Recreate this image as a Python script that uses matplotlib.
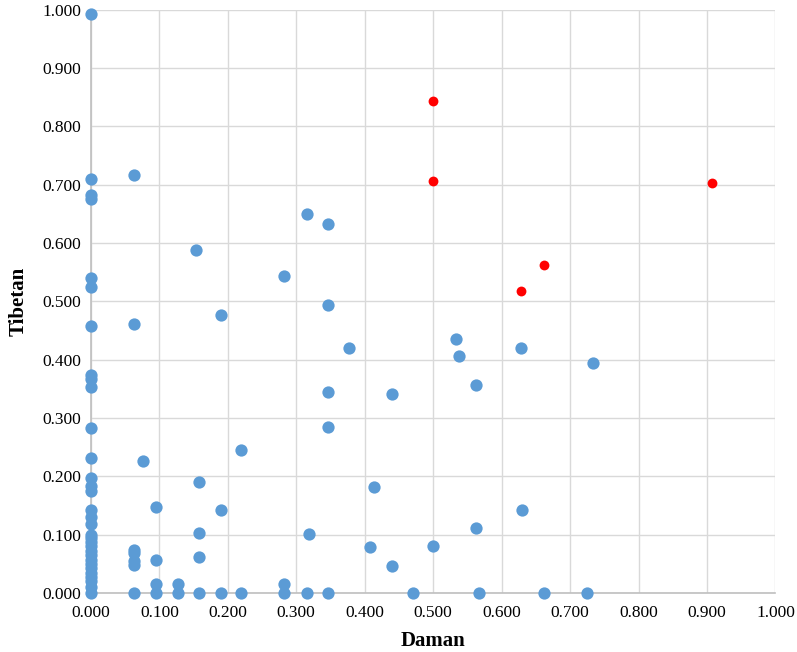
import matplotlib.pyplot as plt

plt.rcParams['font.family'] = ['Liberation Serif', 'DejaVu Serif']

# points sitting on the Daman = 0 line
zero_x_tibetan = [0.992, 0.710, 0.682, 0.675, 0.540, 0.524, 0.457, 0.373, 0.367, 0.354,
                  0.283, 0.231, 0.198, 0.183, 0.175, 0.143, 0.130, 0.119, 0.100, 0.095,
                  0.088, 0.080, 0.072, 0.065, 0.057, 0.050, 0.042, 0.035, 0.027, 0.020,
                  0.011, 0.000]

# points sitting on the Tibetan = 0 line
zero_y_daman = [0.063, 0.095, 0.127, 0.158, 0.190, 0.220, 0.282, 0.315, 0.347,
                0.470, 0.567, 0.662, 0.725]

daman_other = [0.063, 0.153, 0.282, 0.315, 0.347, 0.347, 0.063, 0.190, 0.377, 0.533,
               0.537, 0.628, 0.733, 0.563, 0.440, 0.347, 0.347, 0.220, 0.076, 0.158,
               0.413, 0.095, 0.190, 0.630, 0.563, 0.158, 0.318, 0.408, 0.500, 0.063,
               0.063, 0.063, 0.063, 0.095, 0.158, 0.440, 0.095, 0.127, 0.282]
tibetan_other = [0.717, 0.588, 0.543, 0.650, 0.632, 0.493, 0.462, 0.476, 0.420, 0.436,
                 0.407, 0.420, 0.395, 0.357, 0.341, 0.344, 0.285, 0.246, 0.226, 0.190,
                 0.182, 0.147, 0.143, 0.143, 0.111, 0.103, 0.102, 0.079, 0.081, 0.073,
                 0.068, 0.055, 0.048, 0.057, 0.062, 0.047, 0.016, 0.016, 0.016]

# highlighted points
daman_red = [0.500, 0.500, 0.908, 0.662, 0.628]
tibetan_red = [0.843, 0.707, 0.703, 0.563, 0.518]

blue_x = [0.0] * len(zero_x_tibetan) + zero_y_daman + daman_other
blue_y = zero_x_tibetan + [0.0] * len(zero_y_daman) + tibetan_other

fig = plt.figure(figsize=(7.97, 6.52), dpi=100)
ax = fig.add_axes([0.114, 0.0905, 0.859, 0.8945])

ax.scatter(blue_x, blue_y, s=78, color='#5b9bd5', zorder=3, linewidths=0, clip_on=False)
ax.scatter(daman_red, tibetan_red, s=50, color='#ff0000', zorder=4, linewidths=0)

ticks = [i / 10 for i in range(11)]
ax.set_xlim(0, 1)
ax.set_ylim(0, 1)
ax.set_xticks(ticks)
ax.set_yticks(ticks)
ax.set_xticklabels([f'{t:.3f}' for t in ticks], fontsize=12.5)
ax.set_yticklabels([f'{t:.3f}' for t in ticks], fontsize=12.5)
ax.tick_params(axis='x', length=0, pad=9)
ax.tick_params(axis='y', length=0, pad=7)
ax.grid(color='#d9d9d9', linewidth=1)
ax.set_axisbelow(True)
for side in ['top', 'right']:
    ax.spines[side].set_visible(False)
for side in ['left', 'bottom']:
    ax.spines[side].set_color('#bfbfbf')
    ax.spines[side].set_linewidth(1.2)

ax.set_xlabel('Daman', fontsize=15, fontweight='bold', labelpad=7)
ax.set_ylabel('Tibetan', fontsize=15, fontweight='bold', labelpad=10)

plt.savefig('out.png', dpi=100, facecolor='white')
plt.close()
